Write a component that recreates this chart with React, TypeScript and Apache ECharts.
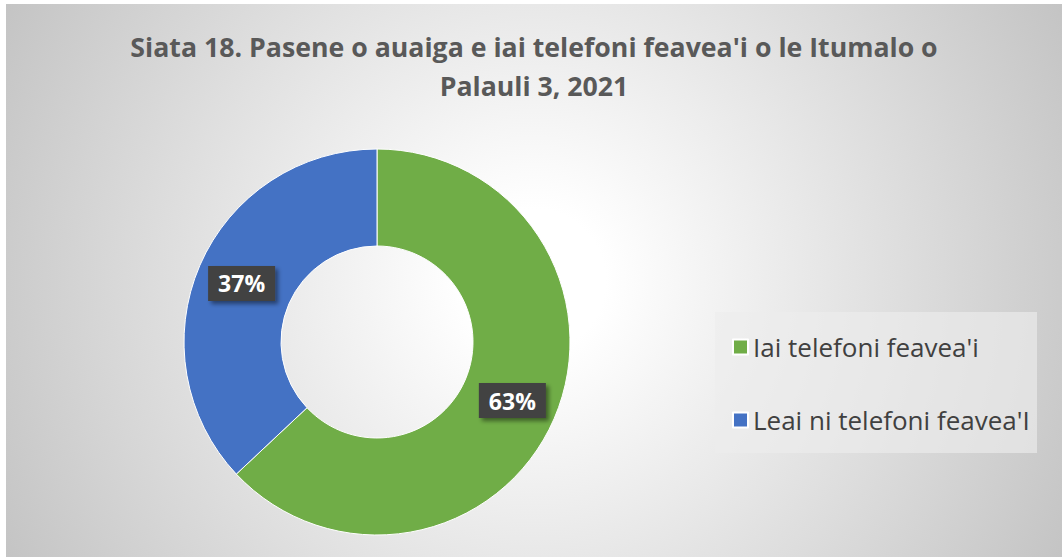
import React, { useEffect, useRef } from "react";
import * as echarts from "echarts";

const titleLines = ["Siata 18. Pasene o auaiga e iai telefoni feavea'i o le Itumalo o", "Palauli 3, 2021"];
const categories = ["Iai telefoni feavea'i", "Leai ni telefoni feavea'I"];
const values = [63, 37];
const colors = ["#70AD47", "#4472C4"];

export default function App() {
  const ref = useRef<HTMLDivElement>(null);
  useEffect(() => {
    if (!ref.current) return;
    const chart = echarts.init(ref.current, undefined, { renderer: "svg" });
    chart.setOption({
      animation: false,
      backgroundColor: "transparent",
      title: {
        text: titleLines.join("\n"),
        left: "center",
        top: 23,
        padding: 0,
        textStyle: {
          fontFamily: "Open Sans",
          fontSize: 26.7,
          lineHeight: 39,
          fontWeight: "bold",
          color: "#595959",
        },
      },
      graphic: [
        {
          type: "rect",
          shape: { x: 709, y: 308, width: 322, height: 141 },
          style: { fill: "rgba(237,237,237,0.65)" },
          z: 0,
        },
      ],
      legend: {
        orient: "vertical",
        left: 726,
        top: 330,
        padding: 0,
        itemWidth: 15,
        itemHeight: 15,
        itemGap: 47,
        icon: "rect",
        z: 5,
        textStyle: {
          fontFamily: "Open Sans",
          fontSize: 26,
          lineHeight: 26,
          color: "#404040",
        },
        data: categories,
      },
      series: [
        {
          type: "pie",
          center: [371, 338],
          radius: [96, 193],
          startAngle: 90,
          clockwise: true,
          avoidLabelOverlap: false,
          itemStyle: { borderColor: "#ffffff", borderWidth: 1 },
          label: {
            show: true,
            position: "inside",
            formatter: "{d}%",
            fontFamily: "Open Sans",
            fontSize: 23,
            fontWeight: "bold",
            color: "#ffffff",
            backgroundColor: "#424242",
            padding: [7, 10, 5, 10],
            shadowColor: "rgba(0,0,0,0.45)",
            shadowBlur: 4,
            shadowOffsetX: 3,
            shadowOffsetY: 3,
          },
          labelLine: { show: false },
          data: categories.map((name, i) => ({
            name,
            value: values[i],
            itemStyle: { color: colors[i] },
          })),
        },
      ],
    });
    return () => chart.dispose();
  }, []);
  return (
    <div
      style={{
        position: "absolute",
        left: 6,
        top: 4,
        width: 1056,
        height: 553,
        background:
          "radial-gradient(circle farthest-corner at 50% 50%, #ffffff 12%, #c4c4c4 100%)",
      }}
    >
      <div ref={ref} style={{ width: 1056, height: 553 }} />
    </div>
  );
}
